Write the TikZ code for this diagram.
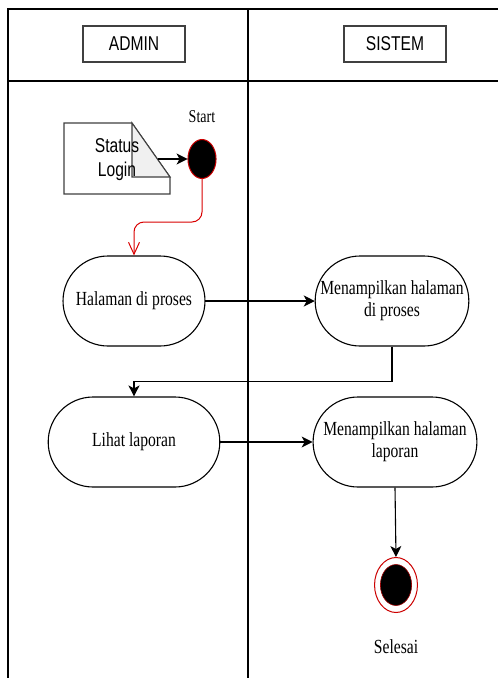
\documentclass[tikz,border=0pt]{standalone}
\usepackage{fontspec}
\setmainfont{Liberation Serif}
\setsansfont{Liberation Sans}
\usetikzlibrary{arrows.meta,shapes.geometric}

\begin{document}
\begin{tikzpicture}[x=1pt,y=-1pt,
  sq/.style={xscale=0.78},
  frame/.style={line width=1.1pt,black},
  lane/.style={sq,draw=black!75,line width=1.3pt,minimum width=131pt,minimum height=36pt,
    inner sep=0pt,font=\sffamily\fontsize{20}{22}\selectfont},
  act/.style={sq,draw,line width=1.1pt,rounded corners=44.9pt,minimum height=90pt,
    inner sep=0pt,align=center,font=\fontsize{20}{22}\selectfont},
  flow/.style={line width=1.1pt,-{Stealth[length=11pt,width=11pt,inset=3pt]}},
  lbl/.style={sq,inner sep=0pt},
]
\useasboundingbox (0,0) rectangle (498,678);
\fill[white] (0,0) rectangle (498,678);

% swimlane frame
\draw[frame] (498,9) -- (8,9) -- (8,678);
\draw[frame] (8,81) -- (498,81);
\draw[frame] (248,9) -- (248,678);

% lane headers
\node[lane] (admin) at (134,44) {ADMIN};
\node[lane] (sistem) at (395,44) {SISTEM};

% note "Status Login" with folded corner
\draw[draw=black!75,line width=1.1pt,fill=white]
  (64,123) -- (132,123) -- (170,177) -- (170,194) -- (64,194) -- cycle;
\draw[draw=black!75,line width=1.1pt,fill=gray!12]
  (132,123) -- (170,177) -- (132,177) -- cycle;
\node[lbl,align=center,font=\sffamily\fontsize{20}{24}\selectfont] (note) at (117,160) {Status\\Login};
\coordinate (noteout) at (158,159);

% initial node
\node[sq,ellipse,fill=black,draw=red!80!black,line width=1pt,minimum width=36pt,
  minimum height=39pt,inner sep=0pt] (start) at (202,159) {};
\node[lbl,font=\fontsize{18}{18}\selectfont] (startlbl) at (202,117) {Start};

% activities
\node[act,minimum width=182pt] (h1) at (134,301) {Halaman di proses};
\node[act,minimum width=197pt] (m1) at (392,301) {Menampilkan halaman\\di proses};
\node[act,minimum width=220pt] (l1) at (134,442) {Lihat laporan};
\node[act,minimum width=210pt] (m2) at (395,442) {Menampilkan halaman\\laporan};

% final node
\node[sq,circle,draw=red!80!black,line width=1pt,fill=white,minimum size=55pt,
  inner sep=0pt] (end) at (396,585) {};
\node[sq,ellipse,fill=black,draw=red!60!black,line width=0.6pt,minimum width=40pt,
  minimum height=41pt,inner sep=0pt] (endcore) at (396,585) {};
\node[lbl,font=\fontsize{20}{22}\selectfont] (endlbl) at (396,647) {Selesai};

% connectors
\coordinate (bendA) at (0,222);
\draw[flow] (noteout) -- (start.west);
\draw[red!85!black,line width=1pt,rounded corners=10pt,
  -{Straight Barb[length=12pt,width=11pt]}]
  (start.south) |- (h1.north |- bendA) -- (h1.north);
\draw[flow] (h1.east) -- (m1.west);
\draw[flow] (m1.south) -- ++(0,35) -| (l1.north);
\draw[flow] (l1.east) -- (m2.west);
\draw[flow] (m2.south) -- (end.north);
\end{tikzpicture}
\end{document}
